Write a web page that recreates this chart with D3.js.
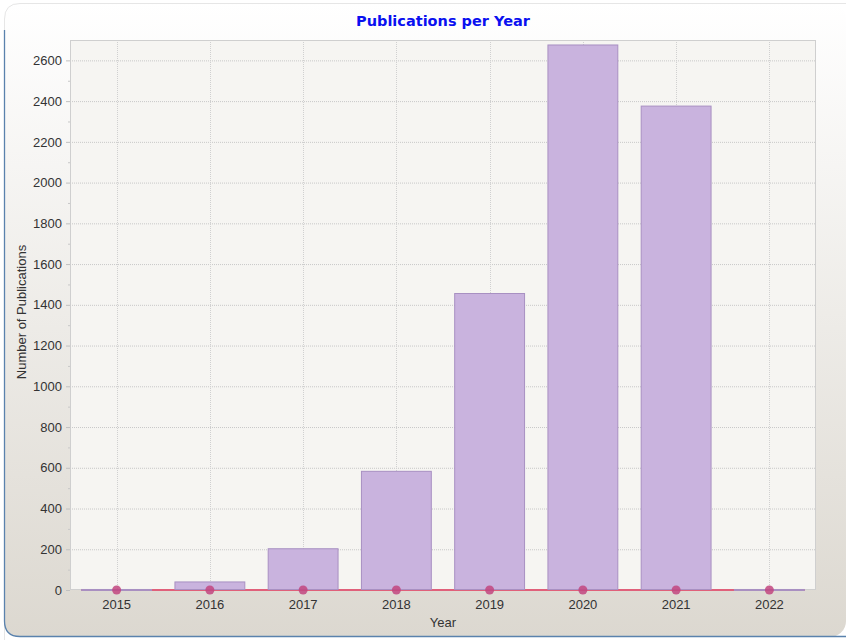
<!DOCTYPE html>
<html>
<head>
<meta charset="utf-8">
<script src="https://cdn.jsdelivr.net/npm/d3@7"></script>
<style>
  body { margin: 0; background: #fff; }
  svg { display: block; }
</style>
</head>
<body>
<svg id="chart" width="846" height="640"></svg>
<script>
// data
var years = ['2015', '2016', '2017', '2018', '2019', '2020', '2021', '2022'];
var publications = [5, 42, 205, 585, 1458, 2678, 2378, 5];
var lineValues = [0, 0, 0, 0, 0, 0, 0, 0];
var yTicks = [0, 200, 400, 600, 800, 1000, 1200, 1400, 1600, 1800, 2000, 2200, 2400, 2600];

var svg = d3.select('#chart'),
    width = +svg.attr('width'),
    height = +svg.attr('height');

var margin = {top: 40, right: 30, bottom: 50, left: 70};

// background gradient
var defs = svg.append('defs');
var grad = defs.append('linearGradient')
    .attr('id', 'bg').attr('x1', 0).attr('y1', 0).attr('x2', 0).attr('y2', 1);
grad.append('stop').attr('offset', '0%').attr('stop-color', '#ffffff');
grad.append('stop').attr('offset', '100%').attr('stop-color', '#dcd8d0');

svg.append('rect')
    .attr('x', 4).attr('y', 3)
    .attr('width', width - 4).attr('height', 634)
    .attr('rx', 16)
    .attr('fill', 'url(#bg)');

// border: blue on left and bottom, pale along top
svg.append('path')
    .attr('d', 'M 4.5 640 L 4.5 19 Q 4.5 3.5 20 3.5 L 846 3.5')
    .attr('fill', 'none').attr('stroke', '#e6e6e6').attr('stroke-width', 1);
svg.append('path')
    .attr('d', 'M 4.5 30 L 4.5 621 Q 4.5 636.5 20 636.5 L 846 636.5')
    .attr('fill', 'none').attr('stroke', '#5a82ad').attr('stroke-width', 1.3);

var x = d3.scaleBand()
    .domain(years)
    .range([margin.left, width - margin.right])
    .paddingInner(0.24)
    .paddingOuter(0.12);

var y = d3.scaleLinear()
    .domain([0, 2700])
    .range([height - margin.bottom, margin.top]);

// plot background
svg.append('rect')
    .attr('x', margin.left).attr('y', margin.top)
    .attr('width', width - margin.left - margin.right)
    .attr('height', height - margin.top - margin.bottom)
    .attr('fill', '#f6f5f2');

// grid lines
svg.append('g')
    .selectAll('line')
    .data(yTicks.slice(1))
    .join('line')
    .attr('x1', margin.left).attr('x2', width - margin.right)
    .attr('y1', function (d) { return y(d) + 0.5; })
    .attr('y2', function (d) { return y(d) + 0.5; })
    .attr('stroke', '#c8c8c8').attr('stroke-dasharray', '1,1');

svg.append('g')
    .selectAll('line')
    .data(years)
    .join('line')
    .attr('x1', function (d) { return Math.round(x(d) + x.bandwidth() / 2) + 0.5; })
    .attr('x2', function (d) { return Math.round(x(d) + x.bandwidth() / 2) + 0.5; })
    .attr('y1', margin.top).attr('y2', height - margin.bottom)
    .attr('stroke', '#d0d0d0').attr('stroke-dasharray', '1,1');

// plot frame
svg.append('rect')
    .attr('x', margin.left + 0.5).attr('y', margin.top + 0.5)
    .attr('width', width - margin.left - margin.right - 1)
    .attr('height', height - margin.top - margin.bottom - 1)
    .attr('fill', 'none').attr('stroke', '#cfcfcf');

// line series (under the bars), runs from first to last bar edge
svg.append('path')
    .datum(lineValues)
    .attr('d', function (d) {
        var x0 = x(years[0]), x1 = x(years[years.length - 1]) + x.bandwidth();
        return 'M' + x0 + ',' + y(d[0]) + 'L' + x1 + ',' + y(d[d.length - 1]);
    })
    .attr('fill', 'none').attr('stroke', '#e0607a').attr('stroke-width', 2);

// bars
svg.append('g')
    .selectAll('rect')
    .data(publications)
    .join('rect')
    .attr('x', function (d, i) { return x(years[i]) + 0.5; })
    .attr('y', function (d) { return y(d) + 0.5; })
    .attr('width', x.bandwidth() - 1)
    .attr('height', function (d) { return Math.max(1, y(0) - y(d) - 1); })
    .attr('fill', '#c9b3de')
    .attr('stroke', '#a890c2').attr('stroke-width', 1);

// dots of the line series
svg.append('g')
    .selectAll('circle')
    .data(lineValues)
    .join('circle')
    .attr('cx', function (d, i) { return x(years[i]) + x.bandwidth() / 2; })
    .attr('cy', function (d) { return y(d); })
    .attr('r', 4.5)
    .attr('fill', '#c2457f')
    .attr('fill-opacity', 0.85);

// axes
var yAxis = d3.axisLeft(y).tickValues(yTicks).tickFormat(d3.format('d')).tickSize(4).tickPadding(4);
var gy = svg.append('g')
    .attr('transform', 'translate(' + margin.left + ',0)')
    .call(yAxis);
gy.select('.domain').remove();
gy.selectAll('.tick line').attr('stroke', '#c0c0c0');
gy.selectAll('.tick text')
    .attr('font-family', 'Liberation Sans, Arial, sans-serif')
    .attr('font-size', 13).attr('fill', '#333');

// minor ticks
svg.append('g')
    .selectAll('line')
    .data(d3.range(100, 2700, 200))
    .join('line')
    .attr('x1', margin.left - 2).attr('x2', margin.left)
    .attr('y1', function (d) { return y(d) + 0.5; })
    .attr('y2', function (d) { return y(d) + 0.5; })
    .attr('stroke', '#c8c8c8');

var xAxis = d3.axisBottom(x).tickSize(0).tickPadding(10);
var gx = svg.append('g')
    .attr('transform', 'translate(0,' + (height - margin.bottom) + ')')
    .call(xAxis);
gx.select('.domain').remove();
gx.selectAll('.tick text')
    .attr('font-family', 'Liberation Sans, Arial, sans-serif')
    .attr('font-size', 13).attr('fill', '#333');

// titles
svg.append('text')
    .attr('x', 443).attr('y', 26)
    .attr('text-anchor', 'middle')
    .attr('font-family', 'DejaVu Sans, sans-serif')
    .attr('font-weight', 'bold').attr('font-size', 14.5)
    .attr('fill', '#0a10f0')
    .text('Publications per Year');

svg.append('text')
    .attr('x', 443).attr('y', 627)
    .attr('text-anchor', 'middle')
    .attr('font-family', 'Liberation Sans, Arial, sans-serif')
    .attr('font-size', 13).attr('fill', '#333')
    .text('Year');

svg.append('text')
    .attr('transform', 'translate(26,' + 312 + ') rotate(-90)')
    .attr('text-anchor', 'middle')
    .attr('font-family', 'Liberation Sans, Arial, sans-serif')
    .attr('font-size', 13).attr('fill', '#333')
    .text('Number of Publications');
</script>
</body>
</html>
